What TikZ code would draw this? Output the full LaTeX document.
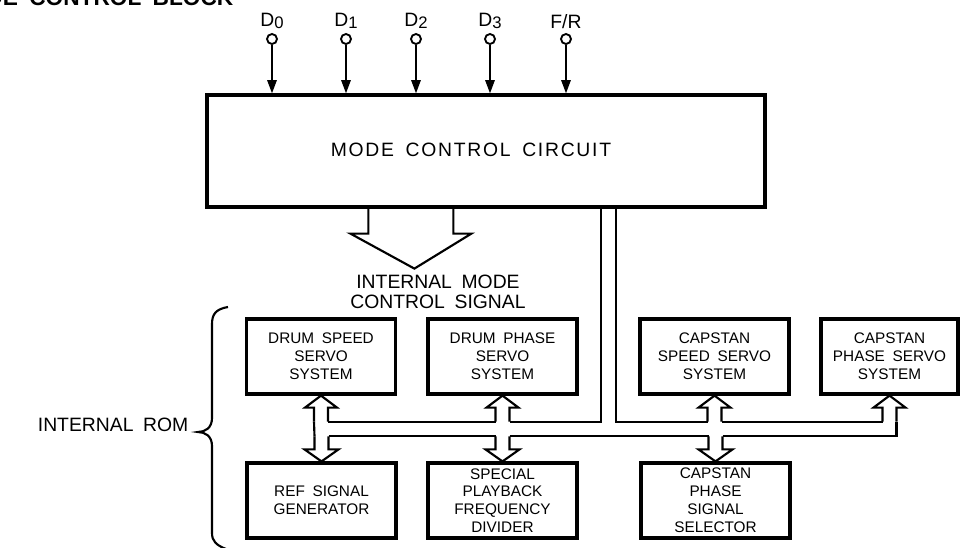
\documentclass[tikz,border=0pt]{standalone}
\usepackage{fontspec}
\setmainfont{Liberation Sans}[WordSpace=1.8]
\usetikzlibrary{calc,arrows.meta,positioning}
\newcommand{\subidx}[1]{\raisebox{-1.5pt}{\fontsize{12.5}{12.5}\selectfont #1}}

\begin{document}
\begin{tikzpicture}[x=0.75pt,y=-0.75pt,
    caja/.style={draw, line width=2.4pt, minimum width=111.75pt, minimum height=56.25pt,
      inner sep=1pt, align=center, font=\fontsize{11.5}{13.4}\selectfont},
    bus/.style={line width=1.6pt, line join=miter},
    pin/.style={circle, draw, line width=1.4pt, minimum size=7.5pt, inner sep=0pt},
    entrada/.style={line width=1.5pt, -{Triangle[length=10pt,width=7pt]}},
    grande/.style={font=\fontsize{14.5}{15}\selectfont, align=center}]
  \useasboundingbox (0,0) rectangle (960,547);
  % titulo cortado arriba
  \begin{scope}
    \clip (0,0) rectangle (960,547);
    \node[anchor=base east, font=\fontsize{17}{17}\selectfont\bfseries] (titulo) at (238,5) {MODE CONTROL BLOCK};
  \end{scope}
  % circuito de control de modo
  \node[caja, minimum width=418.5pt, minimum height=84pt] (mcc) at (486,151) {};
  \node[font=\fontsize{14.5}{15}\selectfont\addfontfeatures{LetterSpace=9}] (mcctxt) at (471,150)
    {MODE\hspace{0.6em}CONTROL\hspace{0.6em}CIRCUIT};
  \foreach \x/\t [count=\i from 0] in {272/{D\subidx{0}},346/{D\subidx{1}},416/{D\subidx{2}},490/{D\subidx{3}},566/{F/R}}{
    \node[pin] (in\i) at (\x,39) {};
    \node[above=0pt of in\i, font=\fontsize{14.5}{15}\selectfont] (lbl\i) {\t};
    \draw[entrada] (in\i) -- (in\i |- mcc.north);
  }
  % flecha hueca de la senal interna
  \draw[bus] ($(mcc.south west)+(163,0)$) -- ++(0,25) -- ++(-18,0) -- ++(64,35) coordinate (punta)
    -- ++(57,-35) -- ++(-18,0) -- ++(0,-25);
  \node[grande] (ims) at (438,292) {INTERNAL MODE\\CONTROL SIGNAL};
  % bloques de la ROM interna
  \node[caja] (dss) at (321,356.5) {DRUM SPEED\\SERVO\\SYSTEM};
  \node[caja] (dps) at (502.5,356.5) {DRUM PHASE\\SERVO\\SYSTEM};
  \node[caja] (css) at (714.5,356.5) {CAPSTAN\\SPEED SERVO\\SYSTEM};
  \node[caja, minimum width=102.75pt] (cps) at (889.5,356.5) {CAPSTAN\\PHASE SERVO\\SYSTEM};
  \node[caja] (rsg) at (321.5,500.5) {REF SIGNAL\\GENERATOR};
  \node[caja] (spd) at (502.5,500.5) {SPECIAL\\PLAYBACK\\FREQUENCY\\DIVIDER};
  \node[caja] (cpss) at (715.5,500.5) {CAPSTAN\\PHASE\\SIGNAL\\SELECTOR};
  % bus doble
  \coordinate (busl) at ($(mcc.south west)+(396,0)$);
  \coordinate (busr) at ($(mcc.south west)+(411,0)$);
  \foreach \n in {dss,dps,css,cps}
    \draw[bus] ($(\n.south)+(-7,26)$) -- ++(0,-14) -- ++(-9,0) -- ++(16,-12) -- ++(16,12) -- ++(-9,0) -- ++(0,14);
  \foreach \n in {rsg,spd,cpss}
    \draw[bus] ($(\n.north)+(-7,-25)$) -- ++(0,13) -- ++(-10,0) -- ++(17,12) -- ++(17,-12) -- ++(-10,0) -- ++(0,-13);
  \draw[bus] ($(dss.south)+(-7,26)$) -- ($(rsg.north)+(-7,-25)$);
  \draw[bus] ($(dss.south)+(7,26)$) -- ($(dps.south)+(-7,26)$);
  \draw[bus] ($(dps.south)+(7,26)$) -| (busl);
  \draw[bus] (busr) |- ($(css.south)+(-7,26)$);
  \draw[bus] ($(css.south)+(7,26)$) -- ($(cps.south)+(-7,26)$);
  \draw[bus] ($(rsg.north)+(7,-25)$) -- ($(spd.north)+(-7,-25)$);
  \draw[bus] ($(spd.north)+(7,-25)$) -- ($(cpss.north)+(-7,-25)$);
  \draw[bus] ($(cpss.north)+(7,-25)$) -| ($(cps.south)+(7,26)$);
  % llave
  \draw[line width=1.6pt] (228,307) .. controls (216,309) and (212,314) .. (212,324) -- (212,418)
    .. controls (212,428) and (205,432) .. (198,432) .. controls (205,432) and (212,436) .. (212,446)
    -- (212,533) .. controls (212,541) and (216,545) .. (226,549);
  \node[grande, anchor=east] (rom) at (193,425) {INTERNAL ROM};
\end{tikzpicture}
\end{document}
